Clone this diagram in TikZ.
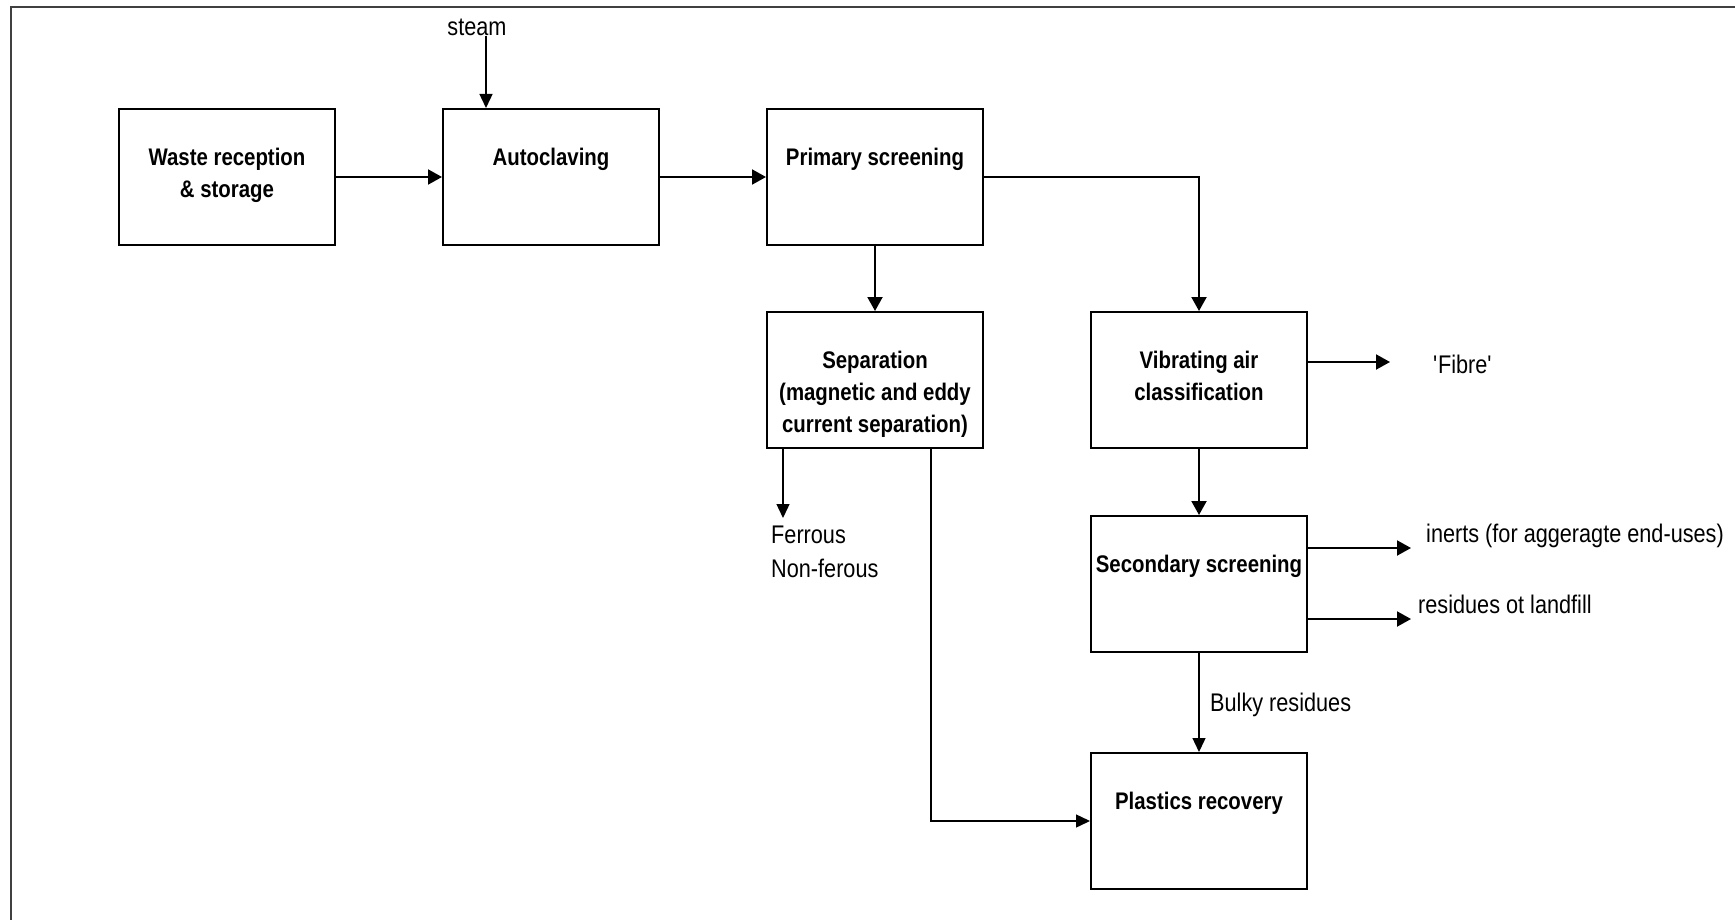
\documentclass[tikz,border=0pt]{standalone}
\usepackage{fontspec}
\setmainfont{Liberation Sans}[FakeStretch=0.85]
\usetikzlibrary{positioning,arrows.meta}

\begin{document}
\begin{tikzpicture}[x=1pt,y=-1pt,
		stage/.style={rectangle,draw,line width=2pt,minimum width=216pt,minimum height=136pt,inner sep=0pt},
		stagetext/.style={anchor=north,yshift=-40pt,inner sep=0pt,align=center,
			font=\bfseries\fontsize{24}{32}\selectfont},
		outtext/.style={anchor=west,inner sep=0pt,align=left,font=\fontsize{25.5}{34}\selectfont},
		flow/.style={line width=2pt,-{Triangle[length=14pt,width=15pt]}},
		thinflow/.style={line width=1.4pt,-{Triangle[length=14pt,width=13pt]}},
		node distance=106pt]
	\useasboundingbox (0,0) rectangle (1735,920);
	\draw[line width=2pt,black!75] (11,920) |- (1735,7);
		% Main line
		\node[stage,label={[stagetext]north:{Waste reception\\\& storage}}] (waste) at (227,177) {};
		\node[stage,right=of waste,label={[stagetext]north:Autoclaving}] (auto) {};
		\node[stage,right=of auto,label={[stagetext]north:Primary screening}] (prim) {};
		% Branches
		\node[stage,below=65pt of prim,
			label={[stagetext]north:{Separation\\(magnetic and eddy\\current separation)}}] (sep) {};
		\node[stage,right=of sep,label={[stagetext]north:{Vibrating air\\classification}}] (vib) {};
		\node[stage,below=66pt of vib,label={[stagetext]north:Secondary screening}] (sec) {};
		\node[stage,below=99pt of sec,label={[stagetext]north:Plastics recovery}] (plast) {};
		% Inputs and outputs
		\node[font=\fontsize{25.5}{34}\selectfont,inner sep=0pt] (steam) at (477,27) {steam};
		\node[outtext] (fibre) at (1433,364) {\textquotesingle Fibre\textquotesingle};
		\node[outtext] (inerts) at (1426,536) {inerts (for aggeragte end-uses)};
		\node[outtext] (landfill) at (1418,604) {residues ot landfill};
		\node[outtext] (metals) at (771,552) {Ferrous\\Non-ferous};
		\node[outtext] (bulky) at (1210,705) {Bulky residues};
		\coordinate (steamin) at ([xshift=44pt]auto.north west);
		\coordinate (fibreend) at (1390,362);
		\coordinate (inertsend) at (1411,548);
		\coordinate (landfillend) at (1411,619);
		\coordinate (metalsend) at (783,518);
		\coordinate (septurn) at (931,823);
		% Connectors
		\draw[thinflow] (steamin |- steam.south) -- (steamin);
		\draw[flow] (waste) -- (auto);
		\draw[flow] (auto) -- (prim);
		\draw[flow] (prim) -- (sep);
		\draw[flow] (prim.east) -| (vib.north);
		\draw[flow] (vib.east |- fibreend) -- (fibreend);
		\draw[flow] (vib) -- (sec);
		\draw[flow] (sec.east |- inertsend) -- (inertsend);
		\draw[flow] (sec.east |- landfillend) -- (landfillend);
		\draw[thinflow] (sec) -- (plast);
		\draw[thinflow] (sep.south -| metalsend) -- (metalsend);
		\draw[thinflow] (sep.south -| septurn) |- (plast.west);
\end{tikzpicture}
\end{document}
